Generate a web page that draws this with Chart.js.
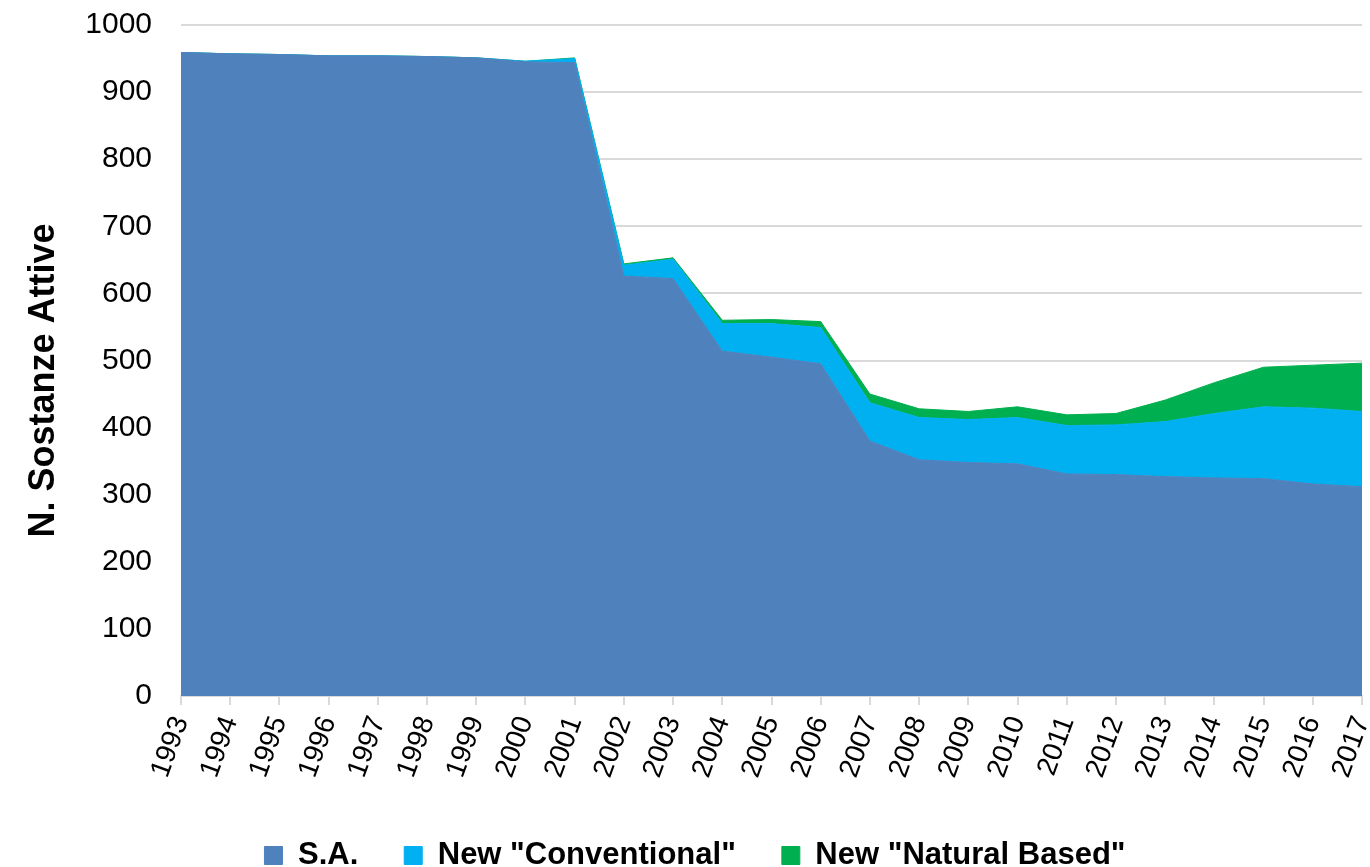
<!DOCTYPE html>
<html>
<head>
<meta charset="utf-8">
<script src="https://cdn.jsdelivr.net/npm/chart.js@4.4.0/dist/chart.umd.min.js"></script>
<style>
  html, body { margin: 0; padding: 0; background: #fff; }
  #wrap { width: 1370px; height: 867px; position: relative; }
</style>
</head>
<body>
<div id="wrap"><canvas id="chart"></canvas></div>
<script>
// years on the x axis
const years = ['1993','1994','1995','1996','1997','1998','1999','2000','2001','2002','2003','2004',
  '2005','2006','2007','2008','2009','2010','2011','2012','2013','2014','2015','2016','2017'];

// active substances (stacked areas)
const sa = [959, 957, 956, 954, 954, 953, 951, 945, 944, 626, 622, 514,
  505, 495, 380, 352, 348, 346, 331, 330, 327, 325, 324, 316, 312];
const conventional = [0, 0, 0, 0, 0, 0, 0, 1, 6, 16, 29, 41,
  50, 54, 57, 63, 64, 69, 72, 74, 82, 96, 107, 113, 112];
const naturalBased = [0, 0, 0, 0, 0, 0, 0, 0, 1, 2, 2, 5,
  6, 9, 13, 13, 12, 16, 16, 17, 32, 46, 59, 64, 72];

const yTicks = [0, 100, 200, 300, 400, 500, 600, 700, 800, 900, 1000];

const font = "'Liberation Sans', Arial, sans-serif";

function area(label, data, color, fill) {
  return {
    label: label,
    data: data,
    backgroundColor: color,
    borderColor: color,
    borderWidth: 1,
    pointRadius: 0,
    fill: fill,
    tension: 0
  };
}

// nudge the legend a bit to the right, like the original
const legendShift = {
  id: 'legendShift',
  afterLayout(chart) {
    if (chart.legend) chart.legend.left += 28;
  }
};

new Chart(document.getElementById('chart'), {
  type: 'line',
  data: {
    labels: years,
    datasets: [
      area('S.A.', sa, '#4f81bd', 'origin'),
      area('New "Conventional"', conventional, '#00b0f0', '-1'),
      area('New "Natural Based"', naturalBased, '#00b050', '-1')
    ]
  },
  plugins: [legendShift],
  options: {
    responsive: true,
    maintainAspectRatio: false,
    animation: false,
    layout: { padding: { left: 0, right: 8, top: 25, bottom: -14 } },
    plugins: {
      tooltip: { enabled: false },
      legend: {
        position: 'bottom',
        labels: {
          color: '#000',
          boxWidth: 18,
          boxHeight: 18,
          padding: 46,
          font: { family: font, size: 31, weight: 'bold' }
        }
      }
    },
    scales: {
      x: {
        offset: false,
        afterFit: (s) => { s.height = 98; s.paddingLeft = 0; s.paddingRight = 0; },
        grid: { drawOnChartArea: false, drawTicks: true, tickLength: 9, color: '#d9d9d9', lineWidth: 2 },
        border: { color: '#d9d9d9', width: 2 },
        ticks: {
          color: '#000',
          minRotation: 70,
          maxRotation: 70,
          autoSkip: false,
          padding: 7,
          font: { family: font, size: 28 }
        }
      },
      y: {
        stacked: true,
        min: 0,
        max: 1000,
        afterFit: (s) => { s.width = 181; s.paddingTop = 0; s.paddingBottom = 0; },
        afterBuildTicks: (axis) => { axis.ticks = yTicks.map(v => ({ value: v })); },
        grid: { color: '#d9d9d9', lineWidth: 2, drawTicks: false },
        border: { display: false },
        ticks: {
          color: '#000',
          padding: 29,
          callback: (v) => String(v),
          font: { family: font, size: 30 }
        },
        title: {
          display: true,
          text: 'N. Sostanze Attive    ',
          color: '#000',
          padding: { top: 22, bottom: 0 },
          font: { family: font, size: 36, weight: 'bold' }
        }
      }
    }
  }
});
</script>
</body>
</html>
